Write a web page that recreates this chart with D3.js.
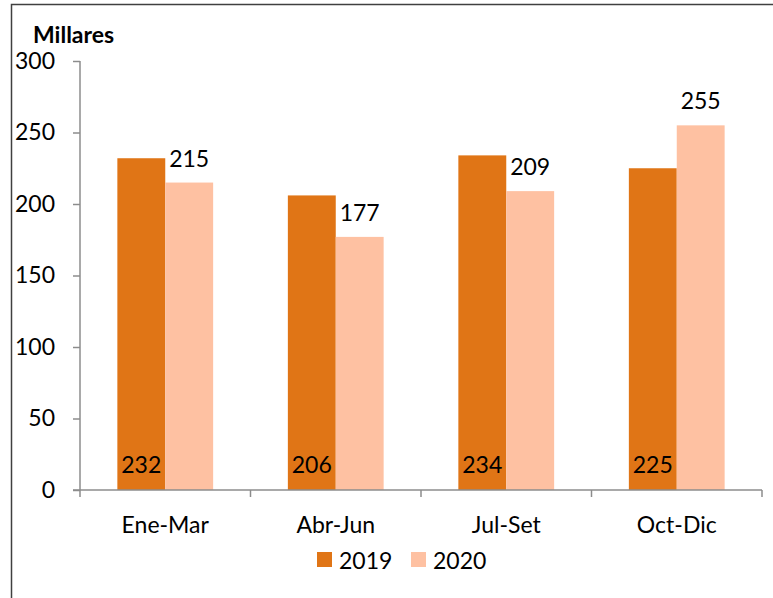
<!DOCTYPE html>
<html><head><meta charset="utf-8">
<script src="https://cdn.jsdelivr.net/npm/d3@7"></script>
<style>body{margin:0;background:#fff;} svg{display:block;font-family:Lato,"Open Sans",sans-serif;}</style>
</head><body>
<svg id="c" width="773" height="598"></svg>
<script>
const categories = ["Ene-Mar","Abr-Jun","Jul-Set","Oct-Dic"];
const series = ["2019","2020"];
const values2019 = [232,206,234,225];
const values2020 = [215,177,209,255];
const yTicks = [0,50,100,150,200,250,300];
const colors = ["#E07516","#FEC1A2"];

const svg = d3.select("#c");
const fs = 23;
// frame
svg.append("rect").attr("x",11.5).attr("y",4.5).attr("width",800).attr("height",700)
  .attr("fill","none").attr("stroke","#404040").attr("stroke-width",1.5);

const x0 = d3.scaleBand().domain(categories).range([80,762]).paddingInner(0).paddingOuter(0);
const x1 = d3.scaleBand().domain(series).range([0,x0.bandwidth()]).paddingInner(0).paddingOuter(0.78);
const y = d3.scaleLinear().domain([0,300]).range([490,61]);

const axisColor = "#8C8C8C";
// y axis
const ya = svg.append("g").attr("transform","translate(80,0)")
  .call(d3.axisLeft(y).tickValues(yTicks).tickSize(7).tickPadding(18).tickFormat(d3.format("d")));
ya.select(".domain").attr("stroke",axisColor).attr("stroke-width",1.5).attr("d","M0,61V490");
ya.selectAll(".tick line").attr("stroke",axisColor).attr("stroke-width",1.5);
ya.selectAll("text").attr("font-size",fs).attr("fill","#000").attr("font-family","Lato");

// bars
const data = categories.map((c,i)=>({c, v:[values2019[i],values2020[i]]}));
const g = svg.append("g");
data.forEach(d=>{
  series.forEach((s,j)=>{
    g.append("rect").attr("x",x0(d.c)+x1(s)).attr("y",y(d.v[j]))
      .attr("width",x1.bandwidth()).attr("height",y(0)-y(d.v[j])).attr("fill",colors[j]);
  });
  // labels
  g.append("text").attr("x",x0(d.c)+x1("2019")+x1.bandwidth()/2).attr("y",y(0)-26)
    .attr("text-anchor","middle").attr("dominant-baseline","central").attr("font-size",fs).text(d.v[0]);
  g.append("text").attr("x",x0(d.c)+x1("2020")+x1.bandwidth()/2).attr("y",y(d.v[1])-25)
    .attr("text-anchor","middle").attr("dominant-baseline","central").attr("font-size",fs).text(d.v[1]);
});

// x axis
const xa = svg.append("g").attr("transform","translate(0,490)")
  .call(d3.axisBottom(x0).tickSize(0).tickPadding(27));
xa.select(".domain").attr("stroke",axisColor).attr("stroke-width",1.5).attr("d","M73,0H762");
xa.selectAll("text").attr("font-size",fs).attr("fill","#000").attr("font-family","Lato");
const bounds = categories.map(c=>x0(c)).concat([x0.range()[1]]);
svg.append("g").selectAll("line").data(bounds).join("line")
  .attr("x1",d=>d).attr("x2",d=>d).attr("y1",490).attr("y2",497)
  .attr("stroke",axisColor).attr("stroke-width",1.5);

// title
svg.append("text").attr("x",33).attr("y",34).attr("dominant-baseline","central")
  .attr("font-size",fs).attr("font-weight","bold").text("Millares");

// legend
const legX = [317,411];
series.forEach((s,j)=>{
  svg.append("rect").attr("x",legX[j]).attr("y",552).attr("width",15).attr("height",15).attr("fill",colors[j]);
  svg.append("text").attr("x",legX[j]+22).attr("y",560).attr("dominant-baseline","central")
    .attr("font-size",fs).text(s);
});
</script>
</body></html>
